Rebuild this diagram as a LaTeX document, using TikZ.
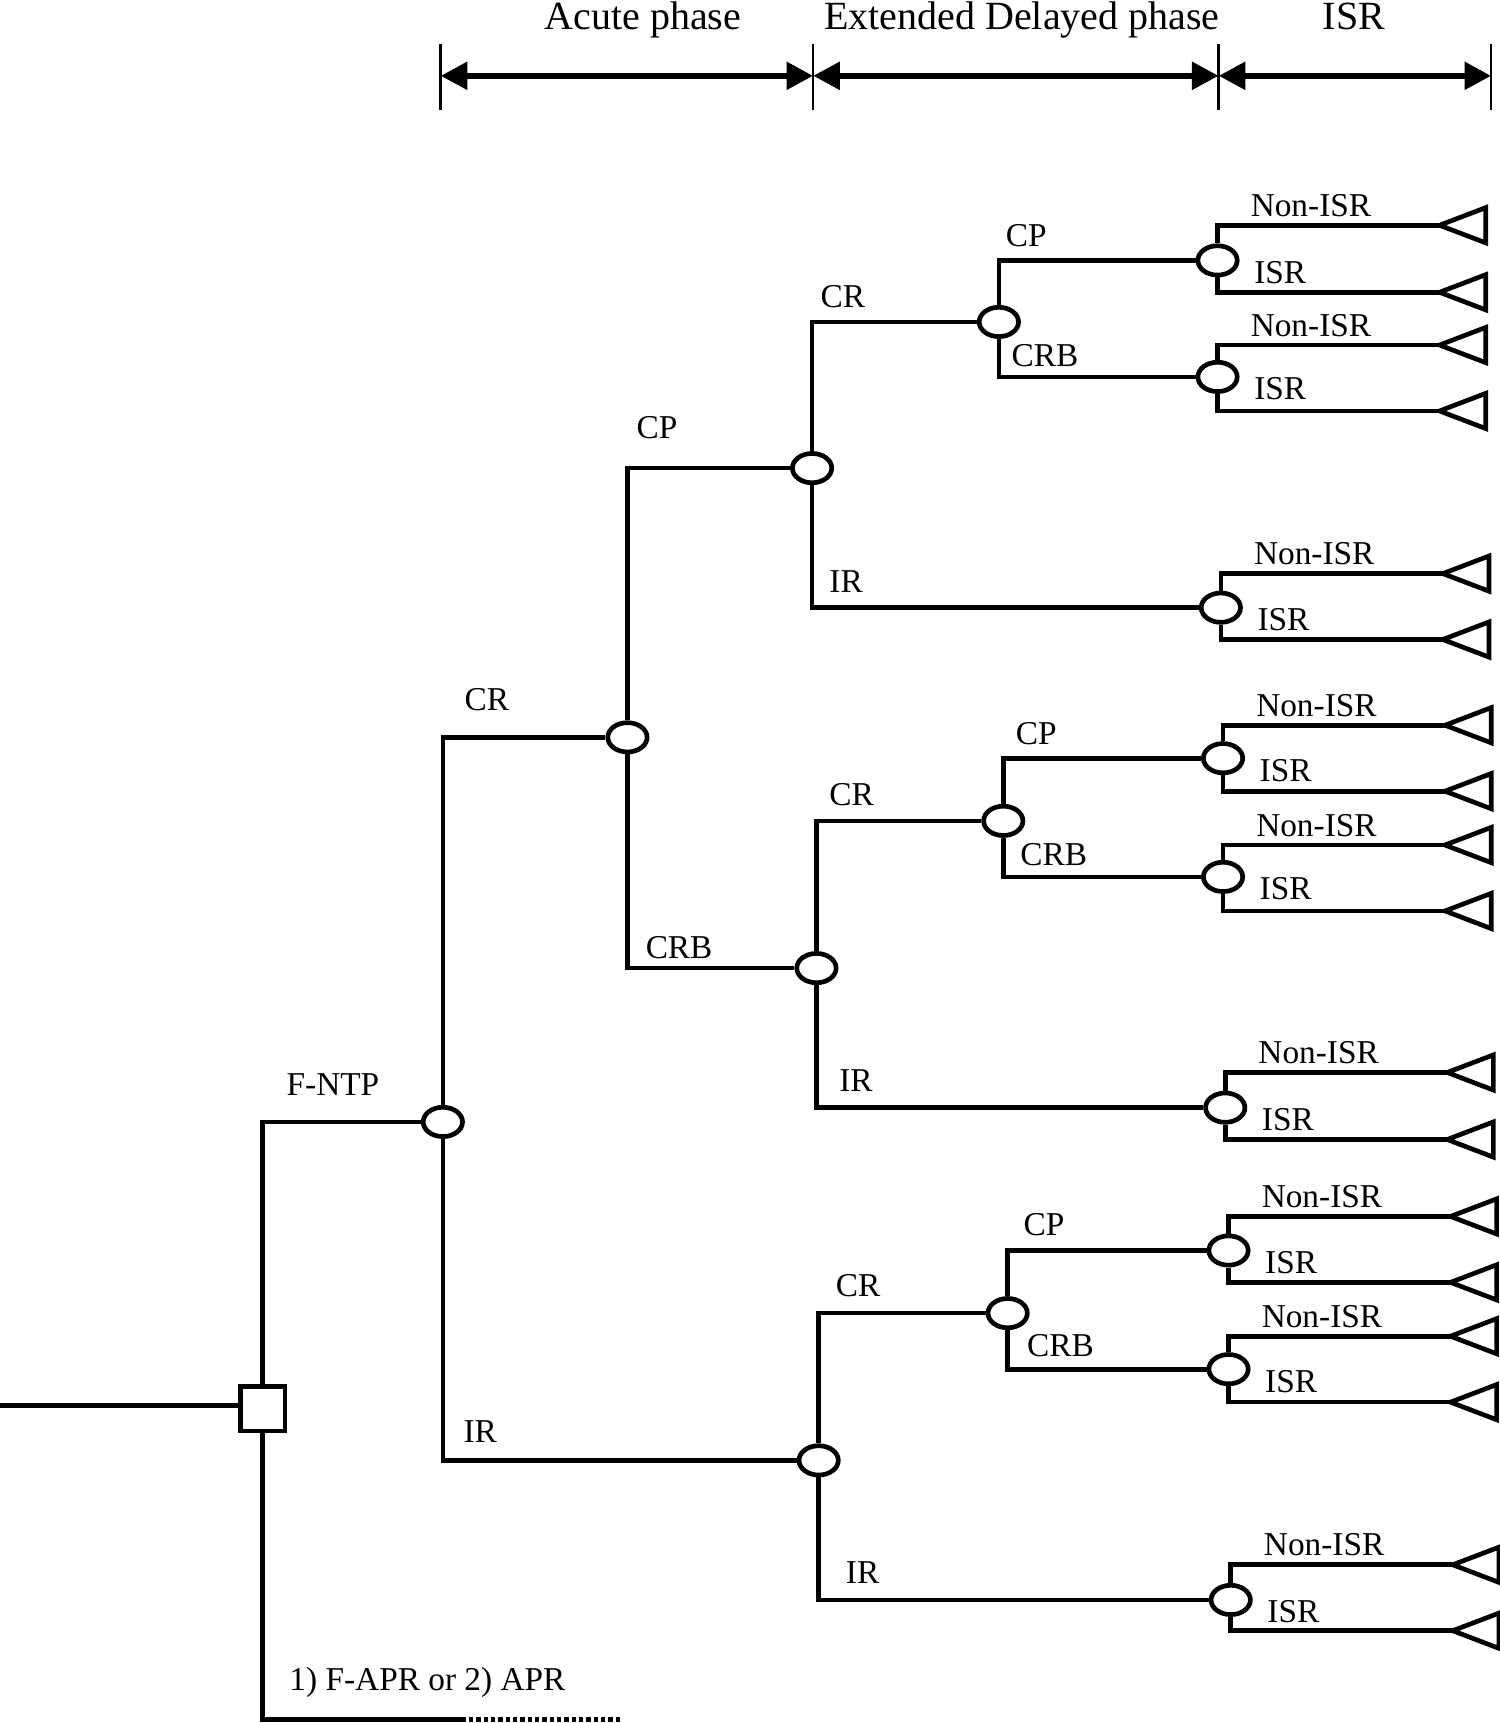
\documentclass[tikz,border=0pt]{standalone}
\usepackage{fontspec}
\setmainfont{Liberation Serif}
\usetikzlibrary{arrows.meta,shapes.geometric}

\tikzset{
  branch/.style={line width=1.4pt},
  chance/.style={ellipse,draw,line width=1.4pt,minimum width=11.8pt,minimum height=8.8pt,inner sep=0pt},
  choice/.style={rectangle,draw,line width=1.4pt,minimum size=13.4pt,inner sep=0pt},
  lbl/.style={font=\fontsize{10}{12}\selectfont,inner sep=0pt},
  phase/.style={font=\fontsize{12}{14}\selectfont,anchor=base,inner sep=0pt},
  phasearrow/.style={line width=1.9pt,{Triangle[length=8pt,width=8pt]}-{Triangle[length=8pt,width=8pt]}},
  phasetick/.style={line width=0.7pt}
}

\begin{document}
\begin{tikzpicture}[x=0.3297pt,y=-0.3297pt]
\useasboundingbox (0,0) rectangle (1365,1568);

% phases on top
\draw (585,27) node[phase] (acute) {Acute phase};
\draw (930,27) node[phase] (delayed) {Extended Delayed phase};
\draw (1232,27) node[phase] (isr) {ISR};
\coordinate (p1) at (401,69);
\coordinate (p2) at (740,69);
\coordinate (p3) at (1109,69);
\coordinate (p4) at (1357,69);
\draw[phasetick] (401,40) -- (401,100);
\draw[phasetick] (740,40) -- (740,100);
\draw[phasetick] (1109,40) -- (1109,100);
\draw[phasetick] (1357,40) -- (1357,100);
\draw[phasearrow] (p1) -- (p2);
\draw[phasearrow] (p2) -- (p3);
\draw[phasearrow] (p3) -- (p4);

% decision and chance nodes
\coordinate (in) at (0,1279);
\draw (239,1282) node[choice] (dec) {};
\draw (403,1021) node[chance] (fntp) {};
\draw (571,671) node[chance] (cr) {};
\draw (739,426) node[chance] (crcp) {};
\draw (743,881) node[chance] (crcrb) {};
\draw (909,293) node[chance] (crcpcr) {};
\draw (913,747) node[chance] (crcrbcr) {};
\draw (745,1329) node[chance] (ir) {};
\draw (917,1195) node[chance] (ircr) {};
\coordinate (apr) at (420,1565);
\coordinate (aprend) at (565,1565);

% last chance nodes with Non-ISR / ISR
\foreach \n/\x/\y/\ya/\yb in {1/1108/237/205/266, 2/1108/343/314/374,
    3/1111/553/522/582, 4/1113/690/660/720, 5/1113/798/769/829,
    6/1115/1008/976/1037, 7/1118/1138/1107/1167, 8/1118/1246/1216/1276,
    9/1120/1456/1424/1484}{
  \draw (\x,\y) node[chance] (t\n) {};
  \coordinate (u\n) at (\x+202,\ya);
  \coordinate (d\n) at (\x+202,\yb);
  \draw[branch] (t\n) |- (u\n);
  \draw[branch] (t\n) |- (d\n);
  \draw[branch] (u\n) -- ++(42,-16) -- ++(0,32) -- cycle;
  \draw[branch] (d\n) -- ++(42,-16) -- ++(0,32) -- cycle;
  \draw (\x+85,\ya-18) node[lbl] {Non-ISR};
  \draw (\x+57,\y+11) node[lbl] {ISR};
}

% branches
\draw[branch] (in) -- (dec.west |- in);
\draw[branch] (dec) |- (fntp);
\draw[branch] (dec) |- (apr);
\draw[branch,dash pattern=on 1.3pt off 0.9pt] (apr) -- (aprend);
\draw[branch] (fntp) |- (cr);
\draw[branch] (fntp) |- (ir);
\draw[branch] (cr) |- (crcp);
\draw[branch] (cr) |- (crcrb);
\draw[branch] (crcp) |- (crcpcr);
\draw[branch] (crcp) |- (t3);
\draw[branch] (crcpcr) |- (t1);
\draw[branch] (crcpcr) |- (t2);
\draw[branch] (crcrb) |- (crcrbcr);
\draw[branch] (crcrb) |- (t6);
\draw[branch] (crcrbcr) |- (t4);
\draw[branch] (crcrbcr) |- (t5);
\draw[branch] (ir) |- (ircr);
\draw[branch] (ir) |- (t9);
\draw[branch] (ircr) |- (t7);
\draw[branch] (ircr) |- (t8);

% branch labels
\draw (303,987) node[lbl] {F-NTP};
\draw (389,1531) node[lbl] {1) F-APR or 2) APR};
\draw (443,637) node[lbl] {CR};
\draw (437,1303) node[lbl] {IR};
\draw (598,389) node[lbl] {CP};
\draw (618,862) node[lbl] {CRB};
\draw (767,270) node[lbl] {CR};
\draw (770,529) node[lbl] {IR};
\draw (934,214) node[lbl] {CP};
\draw (951,324) node[lbl] {CRB};
\draw (775,723) node[lbl] {CR};
\draw (779,983) node[lbl] {IR};
\draw (943,668) node[lbl] {CP};
\draw (959,778) node[lbl] {CRB};
\draw (781,1170) node[lbl] {CR};
\draw (785,1431) node[lbl] {IR};
\draw (950,1114) node[lbl] {CP};
\draw (965,1225) node[lbl] {CRB};

\end{tikzpicture}
\end{document}
